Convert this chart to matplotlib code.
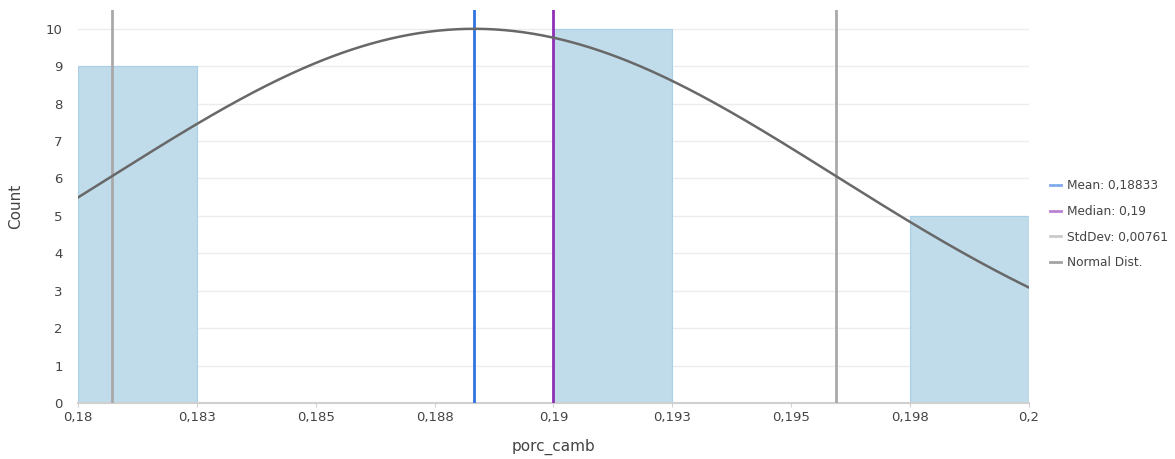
import numpy as np
import matplotlib.pyplot as plt

bin_edges = [0.18, 0.1825, 0.185, 0.1875, 0.19, 0.1925, 0.195, 0.1975, 0.2]
counts = [9, 0, 0, 0, 10, 0, 0, 5]
tick_labels = ["0,18", "0,183", "0,185", "0,188", "0,19", "0,193", "0,195", "0,198", "0,2"]
mean = 0.18833
median = 0.19
std = 0.00761

fig = plt.figure(figsize=(11.75, 4.59), dpi=100)
ax = fig.add_axes([0.0664, 0.122, 0.8093, 0.856])

widths = np.diff(bin_edges)
ax.bar(bin_edges[:-1], counts, width=widths, align="edge",
       color="#c0dbea", edgecolor="#a9d0e8", linewidth=0.8, zorder=2)

# normal curve scaled so its peak sits at the max count
x = np.linspace(bin_edges[0], bin_edges[-1], 400)
y = max(counts) * np.exp(-0.5 * ((x - mean) / std) ** 2)

ax.axvline(mean, color="#2f73e0", lw=2, zorder=3, label="Mean: 0,18833")
ax.axvline(median, color="#8e2fb5", lw=2, zorder=3, label="Median: 0,19")
ax.axvline(mean - std, color="#a9a9a9", lw=2, zorder=3, label="StdDev: 0,00761")
ax.axvline(mean + std, color="#a9a9a9", lw=2, zorder=3)
ax.plot(x, y, color="#686868", lw=1.8, zorder=4, label="Normal Dist.")

ax.set_xlim(bin_edges[0], bin_edges[-1])
ax.set_ylim(0, 10.5)
ax.set_xticks(bin_edges)
ax.set_xticklabels(tick_labels)
ax.set_yticks(range(0, 11))

ax.grid(axis="y", color="#ececec", lw=1, zorder=0)
ax.set_axisbelow(True)
for s in ["top", "right", "left"]:
    ax.spines[s].set_visible(False)
ax.spines["bottom"].set_color("#d0d0d0")
ax.spines["bottom"].set_linewidth(1.5)
ax.tick_params(axis="x", colors="#d0d0d0", labelcolor="#444444", length=3, labelsize=9.5, pad=3)
ax.tick_params(axis="y", length=0, labelcolor="#444444", labelsize=9.5, pad=11)

ax.set_xlabel("porc_camb", fontsize=11, color="#444444")
ax.set_ylabel("Count", fontsize=11, color="#444444")
ax.xaxis.set_label_coords(0.5, -0.092)
ax.yaxis.set_label_coords(-0.058, 0.5)

leg = ax.legend(loc="center left", bbox_to_anchor=(1.011, 0.455), frameon=False,
                fontsize=8.7, handlelength=0.9, handletextpad=0.45, labelspacing=1.05,
                labelcolor="#444444")
for h in leg.get_lines():
    h.set_alpha(0.6)
    h.set_linewidth(2)

fig.savefig("out.png", dpi=100)
